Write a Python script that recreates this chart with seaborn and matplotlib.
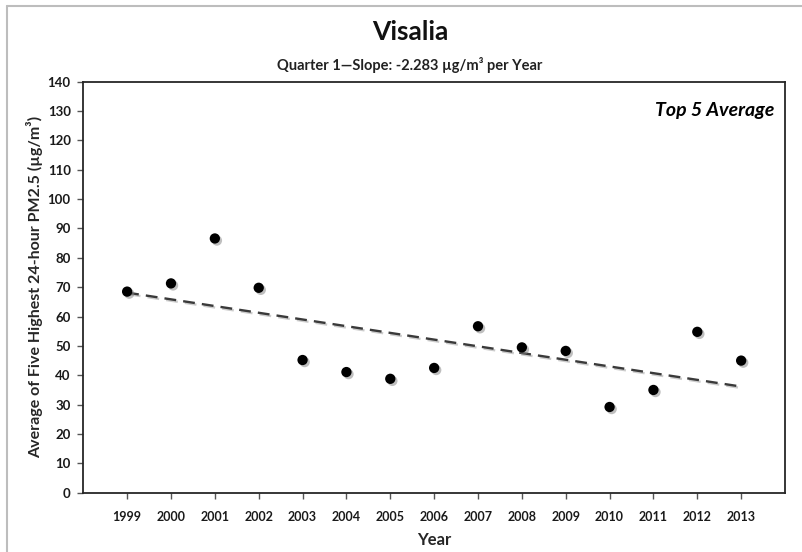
import numpy as np
import pandas as pd
import matplotlib
matplotlib.use('Agg')
import matplotlib.pyplot as plt
import matplotlib.patheffects as pe
from matplotlib.lines import Line2D
import seaborn as sns

years = [1999, 2000, 2001, 2002, 2003, 2004, 2005, 2006,
         2007, 2008, 2009, 2010, 2011, 2012, 2013]
top5_avg = [68.5, 71.3, 86.6, 69.8, 45.2, 41.1, 38.8, 42.5,
            56.7, 49.5, 48.3, 29.2, 35.0, 54.8, 45.0]
y_ticks = list(range(0, 141, 10))

TITLE = 'Visalia'
SUBTITLE = 'Quarter 1\u2014Slope: -2.283 \u00b5g/m\u00b3 per Year'
Y_LABEL = 'Average of Five Highest 24-hour PM2.5 (\u00b5g/m\u00b3)'
X_LABEL = 'Year'
BOX_LABEL = 'Top 5 Average'


def main():
    df = pd.DataFrame({'year': years, 'value': top5_avg})

    sns.set_theme(style='white')
    plt.rcParams['font.family'] = ['Lato', 'DejaVu Sans']

    fig = plt.figure(figsize=(8.03, 5.52), dpi=100)
    ax = fig.add_axes([0.1037, 0.1074, 0.8739, 0.7446])

    shadow = [pe.SimplePatchShadow(offset=(1.5, -1.5), shadow_rgbFace='#808080', alpha=0.5),
              pe.Normal()]
    line_shadow = [pe.SimpleLineShadow(offset=(1.2, -1.2), shadow_color='#808080', alpha=0.4),
                   pe.Normal()]

    sns.regplot(data=df, x='year', y='value', ax=ax, ci=None, truncate=True,
                scatter_kws={'s': 55, 'color': 'black', 'zorder': 3,
                             'linewidths': 0, 'alpha': 1},
                line_kws={'color': '#3a3a3a', 'lw': 1.7, 'dashes': (5, 3),
                          'zorder': 2})
    for coll in ax.collections:
        coll.set_path_effects(shadow)
    for ln in ax.lines:
        ln.set_path_effects(line_shadow)

    ax.set_xlim(1998, 2014)
    ax.set_ylim(0, 140)
    ax.set_xticks(years)
    ax.set_xticklabels([str(y) for y in years], fontsize=9, fontweight='bold',
                       color='#1a1a1a')
    ax.set_yticks(y_ticks)
    ax.set_yticklabels([str(v) for v in y_ticks], fontsize=9.5, fontweight='bold',
                       color='#1a1a1a')
    ax.tick_params(axis='both', which='both', direction='out', length=4, width=1,
                   color='#555555', bottom=True, left=True)
    ax.tick_params(axis='y', pad=5)
    ax.tick_params(axis='x', pad=9)

    for side in ['top', 'right', 'bottom', 'left']:
        ax.spines[side].set_visible(True)
        ax.spines[side].set_color('#262626')
        ax.spines[side].set_linewidth(1.3)

    ax.set_xlabel(X_LABEL, fontsize=12, fontweight='bold', labelpad=7)
    ax.set_ylabel(Y_LABEL, fontsize=11.5, fontweight='bold', labelpad=3)

    ax.text(0.985, 0.93, BOX_LABEL, transform=ax.transAxes, ha='right', va='center',
            fontsize=14, fontweight='bold', fontstyle='italic', color='black')

    fig.text(0.5106, 0.942, TITLE, ha='center', va='center', fontsize=19,
             fontweight='bold', color='#111111')
    fig.text(0.5106, 0.882, SUBTITLE, ha='center', va='center', fontsize=10.5,
             fontweight='bold', color='#222222')

    # screenshot frame (top and left edges only)
    fig.add_artist(Line2D([0.009, 1.0], [0.989, 0.989], transform=fig.transFigure,
                          color='#bdbdbd', lw=1.5))
    fig.add_artist(Line2D([0.009, 0.009], [0.0, 0.989], transform=fig.transFigure,
                          color='#bdbdbd', lw=1.5))

    fig.savefig('out.png', dpi=100, facecolor='white')


if __name__ == '__main__':
    main()
